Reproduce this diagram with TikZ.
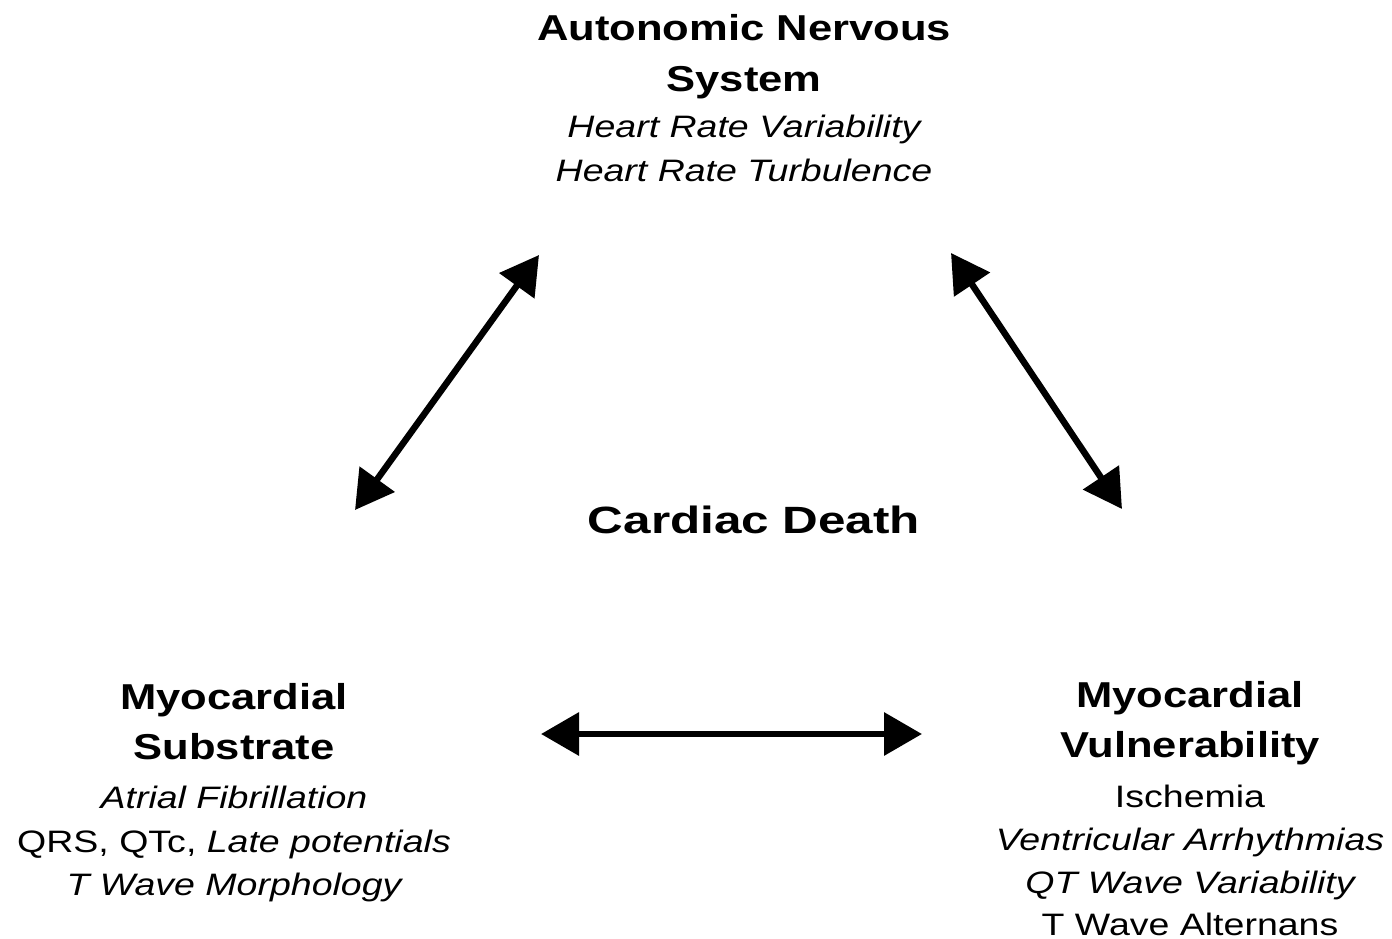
\documentclass[tikz,border=0pt]{standalone}
\usepackage{fontspec}
\usepackage{graphicx}
\setmainfont{Liberation Sans}
\usetikzlibrary{arrows.meta}
\newcommand\hx[1]{\scalebox{1.21}[1]{#1}}
\newcommand\cx[1]{\scalebox{1.3}[1]{#1}}
\tikzset{
  base/.style={anchor=base, inner sep=0pt, text=black},
  hd/.style={base, font=\bfseries\fontsize{36}{40}\selectfont},
  cd/.style={base, font=\bfseries\fontsize{38}{42}\selectfont},
  itl/.style={base, font=\itshape\fontsize{31}{36}\selectfont},
  rml/.style={base, font=\fontsize{31}{36}\selectfont},
  dbl/.style={line width=6.5pt, {Triangle[length=38pt,width=42pt]}-{Triangle[length=38pt,width=42pt]}}
}
\begin{document}
\begin{tikzpicture}[x=1pt,y=-1pt]
\useasboundingbox (0,0) rectangle (1392,939);
% top block
\node[hd] (a1) at (744,41) {\hx{Autonomic Nervous}};
\node[hd] (a2) at (744,92) {\hx{System}};
\node[itl] (a3) at (744,138) {\hx{Heart Rate Variability}};
\node[itl] (a4) at (744,182) {\hx{Heart Rate Turbulence}};
% center
\node[cd] (cdth) at (754,533) {\cx{Cardiac Death}};
% left block
\node[hd] (l1) at (234,709) {\hx{Myocardial}};
\node[hd] (l2) at (234,759) {\hx{Substrate}};
\node[itl] (l3) at (234,808) {\hx{Atrial Fibrillation}};
\node[rml] (l4) at (234,852) {\hx{QRS, QTc, \textit{Late potentials}}};
\node[itl] (l5) at (234,895) {\hx{T Wave Morphology}};
% right block
\node[hd] (r1) at (1190,707) {\hx{Myocardial}};
\node[hd] (r2) at (1190,757) {\hx{Vulnerability}};
\node[rml] (r3) at (1190,807) {\hx{Ischemia}};
\node[itl] (r4) at (1190,850) {\hx{Ventricular Arrhythmias}};
\node[itl] (r5) at (1190,893) {\hx{QT Wave Variability}};
\node[rml] (r6) at (1190,935) {\hx{T Wave Alternans}};
% arrow ends
\coordinate (lA) at (355,510);
\coordinate (lB) at (539,255);
\coordinate (rA) at (951,253);
\coordinate (rB) at (1122,509);
\coordinate (hA) at (541,734);
\coordinate (hB) at (922,734);
\draw[dbl] (lA) -- (lB);
\draw[dbl] (rA) -- (rB);
\draw[dbl] (hA) -- (hB);
\end{tikzpicture}
\end{document}
